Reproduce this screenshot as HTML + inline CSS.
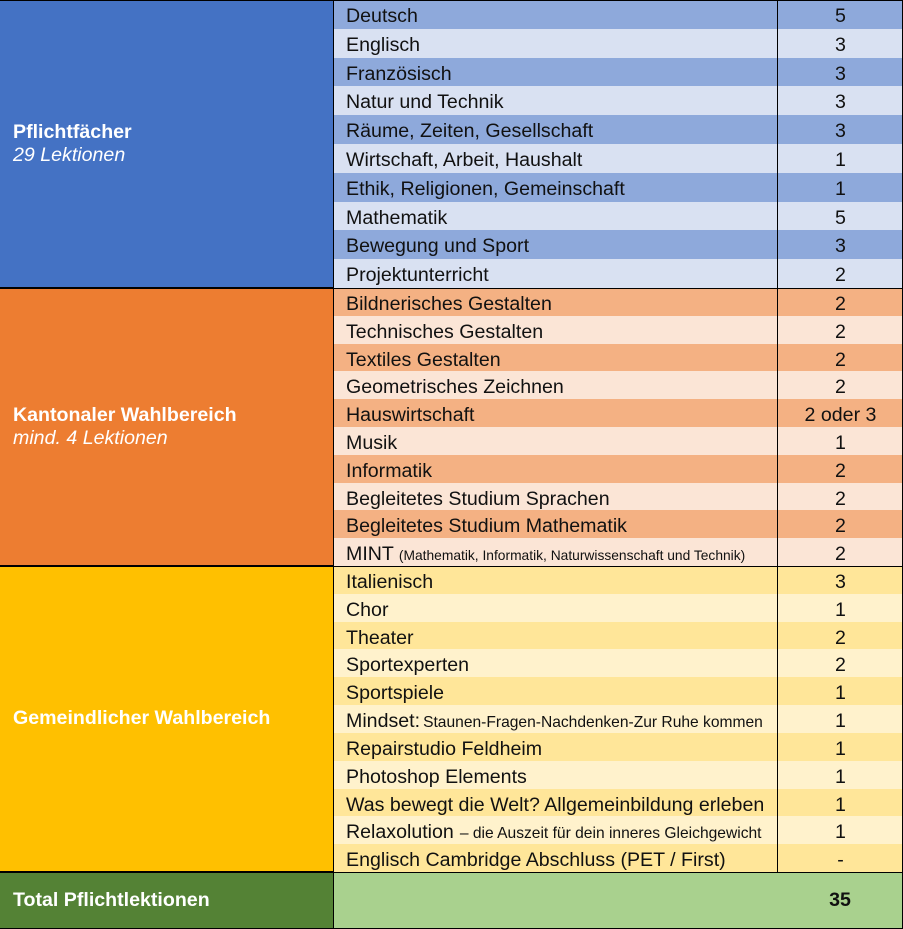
<!DOCTYPE html>
<html><head><meta charset="utf-8"><style>
body{margin:0;width:903px;height:929px;overflow:hidden;font-family:"Liberation Sans",Arial,sans-serif;background:#fff;position:relative}
.l{position:absolute;left:0;width:334px;color:#fff;font-size:19.6px;display:flex;flex-direction:column;justify-content:center;padding-left:13px;box-sizing:border-box;border-right:1px solid #000;border-bottom:1px solid #000}
.r{position:absolute;left:334px;width:569px;display:flex;font-size:19.6px;color:#111;box-sizing:border-box;overflow:hidden}
.r .a{width:444px;padding-left:12px;box-sizing:border-box;border-right:1px solid #000;display:block;line-height:26px;padding-top:3px;white-space:nowrap}
.r .b{flex:1;text-align:center;line-height:26px;padding-top:3px}
small{font-size:13.8px;margin-left:5px}
.sep{position:absolute;left:0;width:903px;height:1px;background:#000}
</style></head><body>
<div class="l" style="top:0;height:288px;background:#4472C4"><b>Pflichtfächer</b><i>29 Lektionen</i></div>
<div class="l" style="top:288px;height:278px;background:#ED7D31"><b>Kantonaler Wahlbereich</b><i>mind. 4 Lektionen</i></div>
<div class="l" style="top:566px;height:306px;background:#FFC000"><b>Gemeindlicher Wahlbereich</b></div>
<div class="l" style="top:872px;height:57px;background:#548235"><b>Total Pflichtlektionen</b></div>
<div id="rows"></div>
<div class="r" style="top:872px;height:57px;background:#A9D18E;border-bottom:1px solid #000;border-right:1px solid #000;align-items:center"><div style="width:444px"></div><div style="flex:1;text-align:center;font-weight:bold">35</div></div>
<div class="sep" style="top:0"></div>
<div class="sep" style="top:288px"></div>
<div class="sep" style="top:566px"></div>
<div class="sep" style="top:872px"></div>
<div style="position:absolute;right:0;top:0;width:1px;height:929px;background:#000"></div>
<script>
var S=[[0,28.8,"#8EA9DB","#D9E1F2",[["Deutsch","5"],["Englisch","3"],["Französisch","3"],["Natur und Technik","3"],["Räume, Zeiten, Gesellschaft","3"],["Wirtschaft, Arbeit, Haushalt","1"],["Ethik, Religionen, Gemeinschaft","1"],["Mathematik","5"],["Bewegung und Sport","3"],["Projektunterricht","2"]]],
[288,27.8,"#F4B183","#FBE5D6",[["Bildnerisches Gestalten","2"],["Technisches Gestalten","2"],["Textiles Gestalten","2"],["Geometrisches Zeichnen","2"],["Hauswirtschaft","2 oder 3"],["Musik","1"],["Informatik","2"],["Begleitetes Studium Sprachen","2"],["Begleitetes Studium Mathematik","2"],["MINT<small>(Mathematik, Informatik, Naturwissenschaft und Technik)</small>","2"]]],
[566,27.82,"#FFE699","#FFF2CC",[["Italienisch","3"],["Chor","1"],["Theater","2"],["Sportexperten","2"],["Sportspiele","1"],["Mindset:<small style='font-size:15.6px;margin-left:3px'>Staunen-Fragen-Nachdenken-Zur Ruhe kommen</small>","1"],["Repairstudio Feldheim","1"],["Photoshop Elements","1"],["Was bewegt die Welt? Allgemeinbildung erleben","1"],["Relaxolution<small style='font-size:15.6px;margin-left:6px'>– die Auszeit für dein inneres Gleichgewicht</small>","1"],["Englisch Cambridge Abschluss (PET / First)","-"]]]];
var h="";S.forEach(function(s){s[4].forEach(function(r,i){var t=s[0]+i*s[1];h+='<div class="r" style="top:'+t+'px;height:'+s[1]+'px;background:'+(i%2?s[3]:s[2])+'"><div class="a">'+r[0]+'</div><div class="b">'+r[1]+'</div></div>';});});
document.getElementById("rows").innerHTML=h;
</script>
</body></html>
